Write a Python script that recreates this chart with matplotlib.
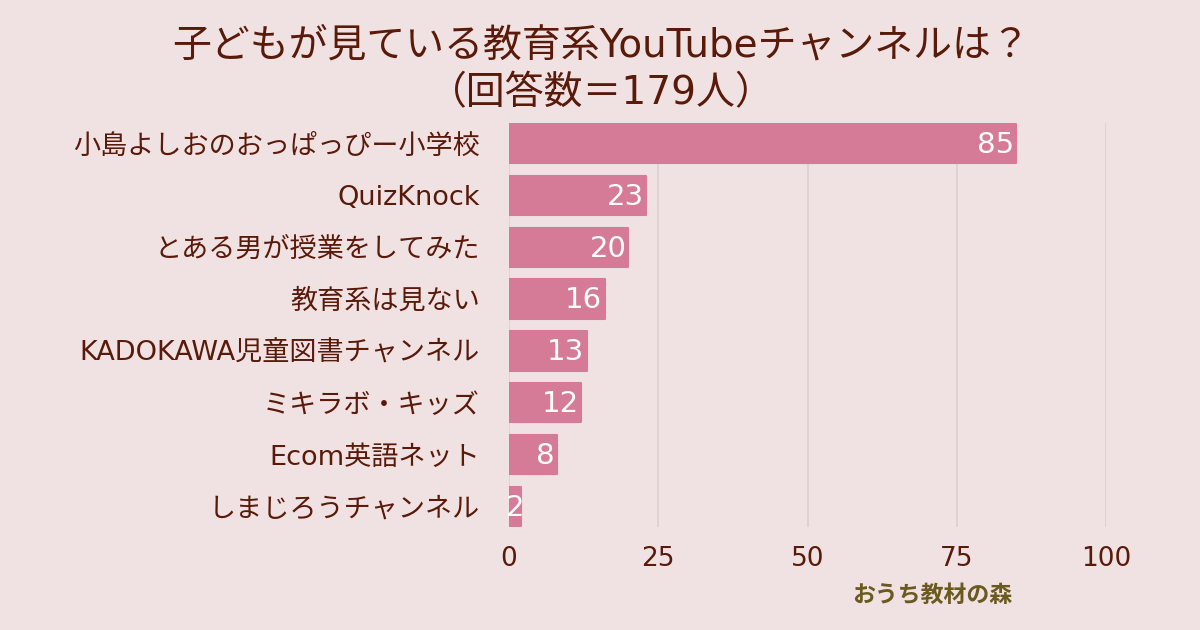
import matplotlib
matplotlib.use("Agg")
import matplotlib.pyplot as plt

categories = ["小島よしおのおっぱっぴー小学校", "QuizKnock", "とある男が授業をしてみた", "教育系は見ない",
              "KADOKAWA児童図書チャンネル", "ミキラボ・キッズ", "Ecom英語ネット", "しまじろうチャンネル"]
values = [85, 23, 20, 16, 13, 12, 8, 2]
xticks = [0, 25, 50, 75, 100]
title_lines = ["子どもが見ている教育系YouTubeチャンネルは？", "（回答数＝179人）"]
credit = "おうち教材の森"

BG = "#f0e2e2"
BAR = "#d67b97"
TXT = "#5a1a0a"
plt.rcParams['font.family'] = ['DejaVu Sans', 'Noto Sans CJK JP']

fig = plt.figure(figsize=(12, 6.3), dpi=100, facecolor=BG)
ax = fig.add_axes([509/1200, 1-527/630, (1106-509)/1200, (527-123)/630], facecolor=BG)
ax.set_xlim(0, 100)
ax.set_ylim(7.395, -0.395)
ax.xaxis.grid(True, color="#dccfcf", lw=1.2)
ax.set_axisbelow(True)
for s in ax.spines.values():
    s.set_visible(False)
bars = ax.barh(range(len(values)), values, height=0.76, color=BAR, edgecolor=BAR, linewidth=1.5)
for b in bars:
    b.set_joinstyle("round")
for i, v in enumerate(values):
    ax.annotate(str(v), (max(v, 2.9), i), xytext=(-1.5, -1), textcoords="offset points", ha="right", va="center",
                color="white", fontsize=21)
ax.set_yticks(range(len(values)), categories)
ax.set_xticks(xticks)
ax.tick_params(axis="both", length=0, colors=TXT)
ax.tick_params(axis="y", labelsize=19.5, pad=21)
ax.tick_params(axis="x", labelsize=19, pad=14)
for line, y in zip(title_lines, [46, 93]):
    fig.text(601/1200, 1-y/630, line, ha="center", va="center", fontsize=28, color=TXT)
fig.text(932/1200, 1-595/630, credit, ha="center", va="center", fontsize=16.5, color="#6b5a1f", weight="bold")
fig.savefig("out.png", dpi=100, facecolor=BG)
